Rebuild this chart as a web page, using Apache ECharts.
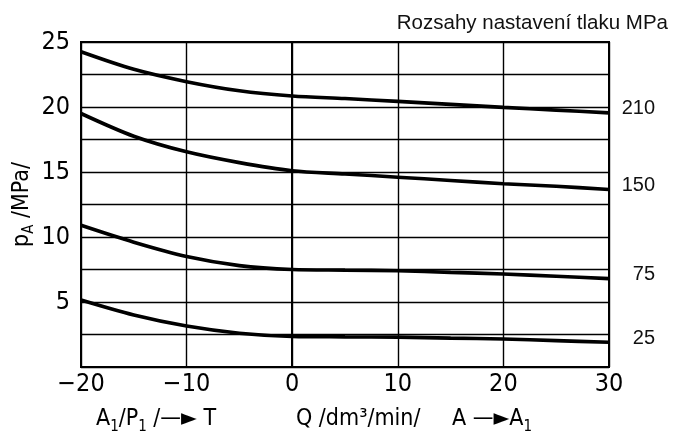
<!DOCTYPE html>
<html>
<head>
<meta charset="utf-8">
<script src="https://cdn.jsdelivr.net/npm/echarts@6/dist/echarts.min.js"></script>
<style>
  html, body { margin: 0; padding: 0; background: #fff; }
  #chart { width: 678px; height: 441px; }
</style>
</head>
<body>
<div id="chart"></div>
<script>
// flow Q /dm3/min/ (x) and pressure pA /MPa/ (y)
const flowQ = [-20, -15, -10, -5, 0, 5, 10, 15, 20, 25, 30]
const p210 = [24.25, 22.9, 21.95, 21.25, 20.85, 20.65, 20.43, 20.2, 19.97, 19.76, 19.55]
const p150 = [19.5, 17.75, 16.55, 15.72, 15.1, 14.85, 14.6, 14.35, 14.1, 13.9, 13.65]
const p75 = [10.9, 9.6, 8.5, 7.8, 7.5, 7.45, 7.4, 7.28, 7.15, 6.98, 6.8]
const p25 = [5.15, 4.0, 3.15, 2.6, 2.35, 2.32, 2.3, 2.22, 2.15, 2.03, 1.9]
const rangeNames = ['210', '150', '75', '25']

const techFont = "'Liberation Sans Narrow', 'DejaVu Sans Condensed', sans-serif"
const plainFont = "'Liberation Sans', Arial, sans-serif"

// subscript styles for the drawing-style texts
const richSub = {
  t: { fontFamily: techFont, fontSize: 23, lineHeight: 30, color: '#000' },
  s: { fontFamily: techFont, fontSize: 15, lineHeight: 30, color: '#000', verticalAlign: 'bottom' }
}

function makeSeries(name, values) {
  return {
    name: name,
    type: 'line',
    smooth: 0.3,
    showSymbol: false,
    data: flowQ.map((q, i) => [q, values[i]]),
    lineStyle: { color: '#000', width: 3.6 },
    endLabel: {
      show: true,
      formatter: '{a}',
      color: '#111',
      fontFamily: plainFont,
      fontSize: 20,
      align: 'right',
      distance: 46,
      offset: [0, -4]
    },
    z: 5
  }
}

const chart = echarts.init(document.getElementById('chart'))
const option = {
  backgroundColor: '#fff',
  animation: false,
  grid: {
    left: 81,
    right: 69,
    top: 42,
    bottom: 74,
    outerBoundsMode: 'none',
    show: true,
    borderColor: '#000',
    borderWidth: 2
  },
  title: {
    text: 'Rozsahy nastavení tlaku MPa',
    right: 5,
    top: 8,
    textStyle: { fontFamily: plainFont, fontSize: 20.5, fontWeight: 'normal', color: '#111' }
  },
  xAxis: {
    type: 'value',
    min: -20,
    max: 30,
    interval: 10,
    axisLine: { show: true, lineStyle: { color: '#000', width: 2 } },
    axisTick: { show: false },
    splitLine: { show: true, lineStyle: { color: '#000', width: 1.4 } },
    axisLabel: {
      color: '#000',
      fontFamily: techFont,
      fontSize: 25,
      margin: 5,
      formatter: v => String(v).replace('-', '−')
    }
  },
  yAxis: {
    type: 'value',
    min: 0,
    max: 25,
    interval: 2.5,
    axisLine: { show: true, lineStyle: { color: '#000', width: 2 } },
    axisTick: { show: false },
    splitLine: { show: true, lineStyle: { color: '#000', width: 1.4 } },
    axisLabel: {
      color: '#000',
      fontFamily: techFont,
      fontSize: 25,
      margin: 11,
      formatter: v => (v % 5 === 0 && v !== 0) ? String(v) : ''
    },
    name: '{t|p}{s|A}{t| /MPa/}',
    nameLocation: 'middle',
    nameGap: 44,
    nameMoveOverlap: false,
    nameRotate: 90,
    nameTextStyle: { rich: richSub }
  },
  graphic: [
    {
      type: 'text',
      left: 96,
      top: 408,
      style: { text: '{t|A}{s|1}{t|/P}{s|1}{t| /—► T}', rich: richSub }
    },
    {
      type: 'text',
      left: 296,
      top: 408,
      style: { text: '{t|Q /dm³/min/}', rich: richSub }
    },
    {
      type: 'text',
      left: 452,
      top: 408,
      style: { text: '{t|A —►A}{s|1}', rich: richSub }
    }
  ],
  series: [
    makeSeries(rangeNames[0], p210),
    makeSeries(rangeNames[1], p150),
    makeSeries(rangeNames[2], p75),
    makeSeries(rangeNames[3], p25)
  ]
}
chart.setOption(option)
</script>
</body>
</html>
